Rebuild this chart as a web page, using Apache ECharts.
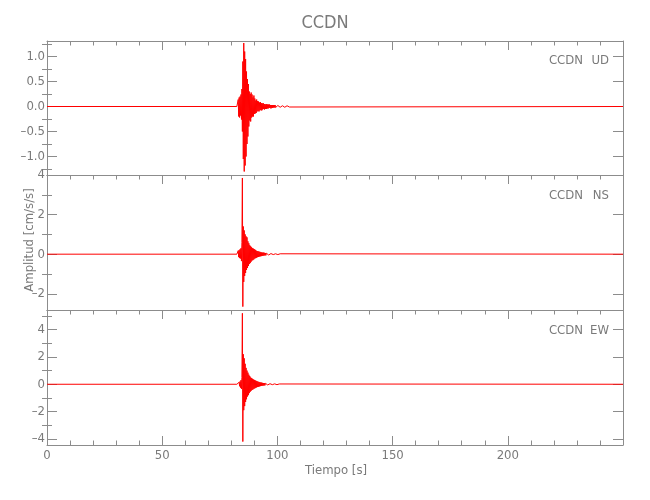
<!DOCTYPE html>
<html><head><meta charset="utf-8">
<script src="https://cdn.jsdelivr.net/npm/echarts@6/dist/echarts.min.js"></script>
<style>html,body{margin:0;padding:0;background:#fff}#c{width:650px;height:500px}</style>
</head><body><div id="c"></div>
<script>
// ---- data ----
const title = 'CCDN';
const station = 'CCDN';
const components = ['UD', 'NS', 'EW'];
const xTickLabels = [0, 50, 100, 150, 200];
const T0 = 82.6;       // first sample time of event window [s]
const DT = 0.2;        // sampling step of the hand-read samples [s]
const T_END = 250;

const ud = [
  0.02, -0.03, 0.14, -0.2, 0.18,
  -0.22, 0.2, -0.18, 0.24, -0.26,
  0.35, -0.5, 0.9, -1.05, 1.27,
  -1.3, 1.1, -1.18, 0.95, -1.0,
  0.7, -0.75, 0.55, -0.6, 0.45,
  -0.4, 0.3, -0.28, 0.25, -0.3,
  0.28, -0.22, 0.24, -0.2, 0.18,
  -0.2, 0.22, -0.15, 0.16, -0.14,
  0.12, -0.13, 0.14, -0.1, 0.11,
  -0.09, 0.1, -0.1, 0.08, -0.08,
  0.09, -0.07, 0.07, -0.08, 0.06,
  -0.06, 0.07, -0.05, 0.05, -0.06,
  0.05, -0.05, 0.04, -0.05, 0.05,
  -0.04, 0.04, -0.04, 0.04, -0.03,
  0.04, -0.03, 0.03, -0.04, 0.03,
  -0.03, 0.03, -0.03, 0.03, -0.02,
  0.03, -0.02, 0.03, -0.02, 0.02,
  -0.02, 0.02, -0.02, 0.02, -0.02,
  0.02, -0.02, 0.02, -0.015, 0.02,
  -0.02, 0.015, -0.02, 0.015, -0.015,
  0.015, -0.015, 0.02, -0.015, 0.015,
  -0.015, 0.015, -0.01, 0.015, -0.015,
  0.01, -0.015, 0.01, -0.01, 0.015
];
const ns = [
  0.05, -0.1, 0.18, -0.15, 0.2,
  -0.2, 0.25, -0.22, 0.3, -0.35,
  0.6, 3.85, -2.65, 1.4, -1.4,
  1.2, -1.1, 1.0, -0.95, 0.9,
  -0.8, 0.85, -0.7, 0.65, -0.6,
  0.55, -0.5, 0.45, -0.45, 0.4,
  -0.38, 0.35, -0.32, 0.3, -0.3,
  0.28, -0.26, 0.25, -0.22, 0.22,
  -0.2, 0.18, -0.18, 0.16, -0.15,
  0.15, -0.14, 0.13, -0.12, 0.12,
  -0.11, 0.1, -0.1, 0.09, -0.09,
  0.08, -0.08, 0.08, -0.07, 0.07,
  -0.06, 0.06, -0.06, 0.05, -0.05,
  0.05, -0.05, 0.04, -0.04, 0.04,
  -0.04, 0.03, -0.03, 0.03, -0.03,
  0.03, -0.03, 0.02, -0.02, 0.02,
  -0.02, 0.02, -0.02, 0.02, -0.02,
  0.02, -0.02, 0.02, -0.02, 0.02,
  -0.02, 0.02, -0.015, 0.02, -0.015
];
const ew = [
  0.05, -0.08, 0.1, -0.12, 0.15,
  -0.15, 0.2, -0.25, 0.3, -0.35,
  0.5, 5.2, -4.2, 2.2, -1.9,
  1.9, -1.6, 1.5, -1.3, 1.2,
  -1.1, 1.0, -0.9, 0.85, -0.8,
  0.7, -0.65, 0.6, -0.55, 0.5,
  -0.48, 0.45, -0.42, 0.4, -0.38,
  0.35, -0.33, 0.32, -0.3, 0.28,
  -0.26, 0.25, -0.23, 0.22, -0.2,
  0.19, -0.18, 0.17, -0.16, 0.15,
  -0.14, 0.13, -0.12, 0.12, -0.11,
  0.1, -0.1, 0.09, -0.09, 0.08,
  -0.08, 0.07, -0.07, 0.06, -0.06,
  0.06, -0.05, 0.05, -0.05, 0.04,
  -0.04, 0.04, -0.04, 0.03, -0.03,
  0.03, -0.03, 0.03, -0.02, 0.02,
  -0.03, 0.03, -0.02, 0.03, -0.02,
  0.02, -0.03, 0.02, -0.02, 0.02,
  -0.02, 0.02, -0.02, 0.02, -0.02
];
const yRanges = [[-1.37, 1.31], [-2.82, 4.0], [-4.45, 5.44]];
const yMajor = [[-1.0, -0.5, 0.0, 0.5, 1.0], [-2, 0, 2, 4], [-4, -2, 0, 2, 4]];
const yMinor = [[-1.25, -0.75, -0.25, 0.25, 0.75, 1.25], [-1, 1, 3], [-3, -1, 1, 3, 5]];
const yDecimals = [1, 0, 0];
const seriesValues = [ud, ns, ew];

// ---- layout / style ----
const FONT = "'DejaVu Sans Condensed','Liberation Sans',sans-serif";
const AXC = '#8c8c8c';
const TXC = '#7a7a7a';
const grids = [
  {left: 47, right: 27, top: 41, height: 134},
  {left: 47, right: 27, top: 175, height: 135},
  {left: 47, right: 27, top: 310, height: 135}
];

function buildSeriesData(vals) {
  const out = [[0, 0], [T0 - DT, 0]];
  vals.forEach((v, i) => out.push([+(T0 + i * DT).toFixed(2), v]));
  out.push([+(T0 + vals.length * DT).toFixed(2), 0]);
  out.push([T_END, 0]);
  return out;
}
function fmt(v, d) {
  const s = Math.abs(v).toFixed(d);
  return v < 0 ? '\u2013' + s : s;
}

const xAxis = [], yAxis = [], series = [];
grids.forEach((g, i) => {
  const last = i === grids.length - 1;
  const dec = yDecimals[i];
  ['bottom', 'top'].forEach(pos => {
    xAxis.push({
      type: 'value', gridIndex: i, position: pos, min: 0, max: T_END, interval: 50,
      axisLine: {show: true, onZero: false, lineStyle: {color: AXC, width: 1}},
      axisTick: {show: pos === 'top' || last, inside: true, length: 9, lineStyle: {color: AXC}},
      minorTick: {show: pos === 'top' || last, splitNumber: 5, length: 4.5, lineStyle: {color: AXC}},
      axisLabel: {show: last && pos === 'bottom', margin: 4, color: TXC, fontFamily: FONT, fontSize: 13,
        customValues: xTickLabels},
      splitLine: {show: false}
    });
  });
  ['left', 'right'].forEach(pos => {
    yAxis.push({
      type: 'value', gridIndex: i, position: pos, min: yRanges[i][0], max: yRanges[i][1],
      axisLine: {show: true, onZero: false, lineStyle: {color: AXC, width: 1}},
      axisTick: {show: true, inside: true, length: 10, customValues: yMajor[i], lineStyle: {color: AXC}},
      axisLabel: {show: pos === 'left', margin: 2, color: TXC, fontFamily: FONT, fontSize: 13,
        customValues: yMajor[i], formatter: v => fmt(v, dec)},
      splitLine: {show: false}
    });
    yAxis.push({
      type: 'value', gridIndex: i, position: pos, min: yRanges[i][0], max: yRanges[i][1],
      axisLine: {show: false},
      axisTick: {show: true, inside: true, length: 5, customValues: yMinor[i], lineStyle: {color: AXC}},
      axisLabel: {show: false},
      splitLine: {show: false}
    });
  });
  series.push({
    type: 'line', xAxisIndex: i * 2, yAxisIndex: i * 4,
    data: buildSeriesData(seriesValues[i]),
    showSymbol: false, symbol: 'none', sampling: null, clip: true,
    lineStyle: {color: '#ff0000', width: 1}, itemStyle: {color: '#ff0000'},
    silent: true, animation: false
  });
});

const labelY = [61, 196, 331];
const graphic = [
  {type: 'text', left: 'center', top: 14, style: {text: title, fill: TXC, font: '18px ' + FONT}},
  {type: 'text', x: 336, y: 471, style: {text: 'Tiempo [s]', fill: TXC, font: '13px ' + FONT, align: 'center', verticalAlign: 'middle'}},
  {type: 'text', x: 30, y: 240, rotation: Math.PI / 2,
    style: {text: 'Amplitud [cm/s/s]', fill: TXC, font: '13px ' + FONT, align: 'center', verticalAlign: 'middle'}}
];
components.forEach((c, i) => {
  graphic.push({type: 'text', x: 583, y: labelY[i], style: {text: station, fill: TXC, font: '13px ' + FONT, align: 'right', verticalAlign: 'middle'}});
  graphic.push({type: 'text', x: 609, y: labelY[i], style: {text: c, fill: TXC, font: '13px ' + FONT, align: 'right', verticalAlign: 'middle'}});
});

const chart = echarts.init(document.getElementById('c'), null, {renderer: 'canvas'});
chart.setOption({
  animation: false,
  backgroundColor: '#ffffff',
  grid: grids,
  xAxis, yAxis, series, graphic
});
</script></body></html>
